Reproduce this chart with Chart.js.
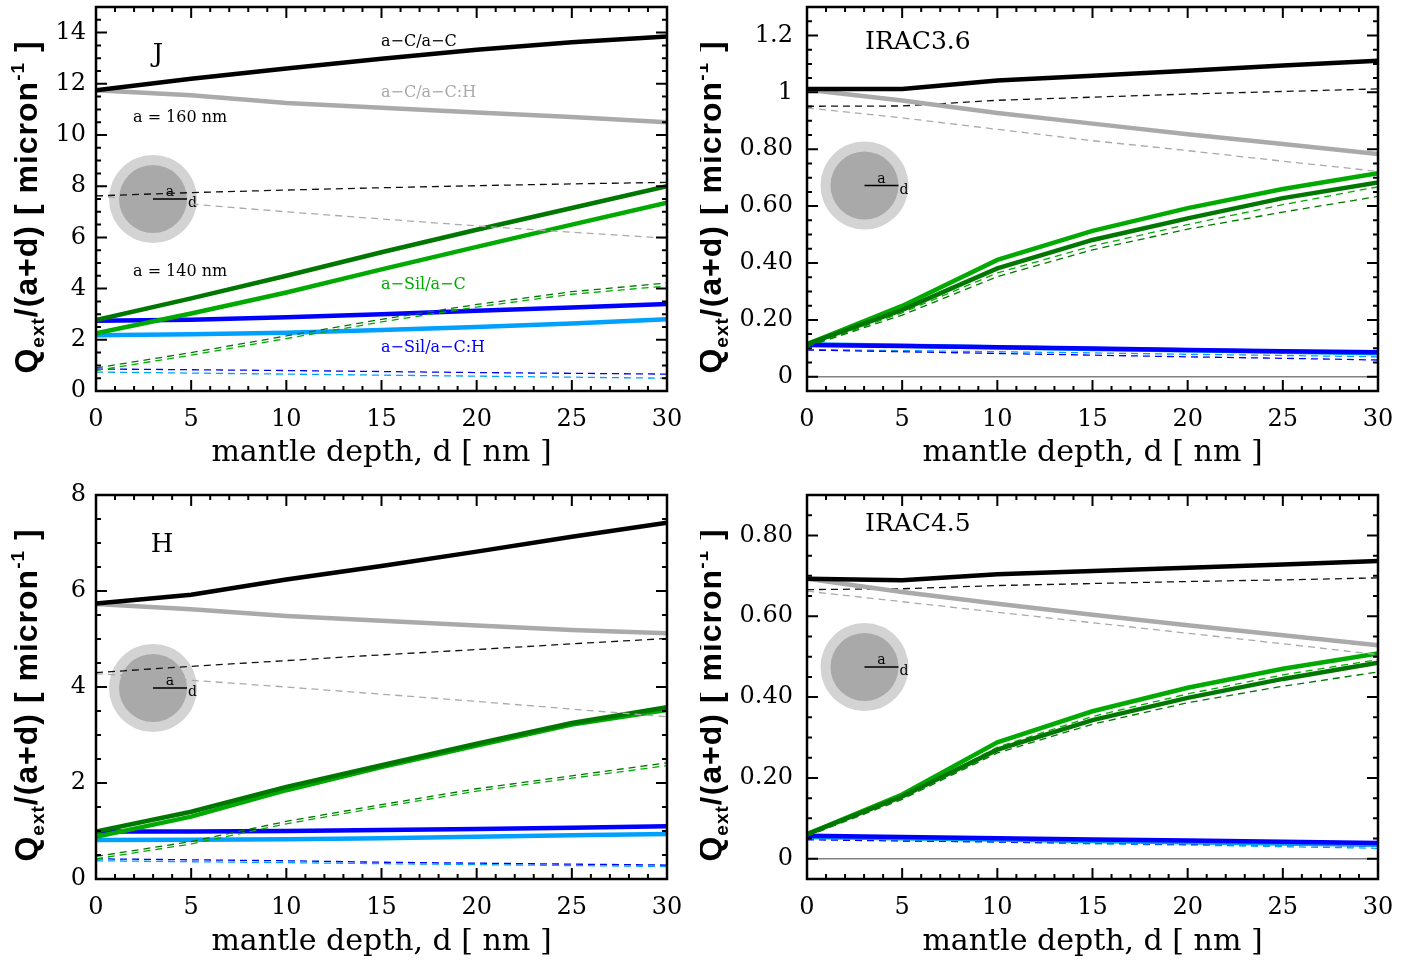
<!DOCTYPE html>
<html>
<head>
<meta charset="utf-8">
<script src="https://cdn.jsdelivr.net/npm/chart.js@4.4.0/dist/chart.umd.min.js"></script>
<style>
  body { margin: 0; background: #fff; width: 1417px; height: 964px; position: relative; overflow: hidden; }
  canvas { position: absolute; }
</style>
</head>
<body>
<canvas id="cJ" width="700" height="482" style="left:0;top:0"></canvas>
<canvas id="cI1" width="717" height="482" style="left:700px;top:0"></canvas>
<canvas id="cH" width="700" height="482" style="left:0;top:482px"></canvas>
<canvas id="cI2" width="717" height="482" style="left:700px;top:482px"></canvas>
<script>
// mantle depth d [nm]
const depth = [0, 5, 10, 15, 20, 25, 30];
const xTicks = [0, 5, 10, 15, 20, 25, 30];
const xLabels = ['0', '5', '10', '15', '20', '25', '30'];

// J band
const jCC    = [11.75, 12.2, 12.6, 12.98, 13.33, 13.62, 13.85];
const jCCH   = [11.75, 11.55, 11.25, 11.06, 10.88, 10.7, 10.5];
const jCCd   = [7.62, 7.75, 7.85, 7.94, 8.02, 8.09, 8.15];
const jCCHd  = [7.62, 7.3, 7.0, 6.72, 6.45, 6.2, 5.97];
const jSC1   = [2.77, 3.62, 4.5, 5.42, 6.3, 7.15, 8.0];
const jSC2   = [2.25, 3.03, 3.85, 4.75, 5.63, 6.5, 7.36];
const jSC1d  = [0.9, 1.5, 2.15, 2.8, 3.38, 3.88, 4.22];
const jSC2d  = [0.8, 1.4, 2.05, 2.7, 3.28, 3.78, 4.1];
const jSH1   = [2.74, 2.78, 2.88, 3.0, 3.13, 3.26, 3.4];
const jSH2   = [2.18, 2.22, 2.28, 2.38, 2.5, 2.64, 2.8];
const jSH1d  = [0.86, 0.83, 0.8, 0.76, 0.72, 0.69, 0.66];
const jSH2d  = [0.74, 0.7, 0.66, 0.62, 0.58, 0.54, 0.5];
const jYTicks  = [0, 2, 4, 6, 8, 10, 12, 14];
const jYLabels = ['0', '2', '4', '6', '8', '10', '12', '14'];

// IRAC 3.6
const i1CC   = [1.012, 1.012, 1.042, 1.058, 1.076, 1.094, 1.111];
const i1CCH  = [1.009, 0.971, 0.927, 0.89, 0.853, 0.818, 0.783];
const i1CCd  = [0.951, 0.952, 0.972, 0.983, 0.994, 1.003, 1.012];
const i1CCHd = [0.945, 0.91, 0.87, 0.83, 0.795, 0.758, 0.722];
const i1SC1  = [0.115, 0.235, 0.381, 0.481, 0.557, 0.628, 0.683];
const i1SC2  = [0.115, 0.249, 0.411, 0.513, 0.593, 0.66, 0.716];
const i1SC1d = [0.106, 0.217, 0.352, 0.446, 0.519, 0.579, 0.634];
const i1SC2d = [0.106, 0.225, 0.365, 0.46, 0.535, 0.605, 0.668];
const i1SH1  = [0.112, 0.108, 0.104, 0.099, 0.094, 0.09, 0.086];
const i1SH2  = [0.114, 0.109, 0.104, 0.098, 0.093, 0.088, 0.083];
const i1SH1d = [0.094, 0.088, 0.082, 0.076, 0.07, 0.065, 0.059];
const i1SH2d = [0.096, 0.092, 0.088, 0.084, 0.079, 0.075, 0.07];
const i1YTicks  = [0, 0.2, 0.4, 0.6, 0.8, 1, 1.2];
const i1YLabels = ['0', '0.20', '0.40', '0.60', '0.80', '1', '1.2'];

// H band
const hCC    = [5.74, 5.92, 6.24, 6.52, 6.82, 7.13, 7.42];
const hCCH   = [5.73, 5.62, 5.48, 5.38, 5.28, 5.19, 5.12];
const hCCd   = [4.3, 4.43, 4.55, 4.67, 4.78, 4.9, 5.01];
const hCCHd  = [4.28, 4.14, 4.0, 3.85, 3.7, 3.54, 3.38];
const hSC1   = [0.99, 1.4, 1.92, 2.37, 2.82, 3.25, 3.58];
const hSC2   = [0.88, 1.3, 1.85, 2.33, 2.78, 3.22, 3.52];
const hSC1d  = [0.47, 0.78, 1.2, 1.55, 1.88, 2.15, 2.42];
const hSC2d  = [0.42, 0.73, 1.15, 1.5, 1.83, 2.1, 2.36];
const hSH1   = [0.99, 0.99, 1.0, 1.02, 1.04, 1.07, 1.1];
const hSH2   = [0.81, 0.82, 0.83, 0.85, 0.88, 0.91, 0.94];
const hSH1d  = [0.42, 0.4, 0.38, 0.35, 0.33, 0.31, 0.29];
const hSH2d  = [0.38, 0.36, 0.34, 0.32, 0.3, 0.28, 0.26];
const hYTicks  = [0, 2, 4, 6, 8];
const hYLabels = ['0', '2', '4', '6', '8'];

// IRAC 4.5
const i2CC   = [0.693, 0.689, 0.704, 0.712, 0.72, 0.728, 0.737];
const i2CCH  = [0.693, 0.66, 0.631, 0.604, 0.578, 0.553, 0.528];
const i2CCd  = [0.666, 0.668, 0.676, 0.681, 0.686, 0.69, 0.695];
const i2CCHd = [0.662, 0.636, 0.61, 0.584, 0.558, 0.532, 0.505];
const i2SC1  = [0.061, 0.154, 0.27, 0.343, 0.398, 0.445, 0.485];
const i2SC2  = [0.061, 0.159, 0.288, 0.365, 0.423, 0.47, 0.508];
const i2SC1d = [0.056, 0.147, 0.262, 0.333, 0.386, 0.427, 0.462];
const i2SC2d = [0.058, 0.152, 0.276, 0.352, 0.408, 0.455, 0.493];
const i2SH1  = [0.057, 0.054, 0.051, 0.048, 0.045, 0.042, 0.039];
const i2SH2  = [0.054, 0.051, 0.048, 0.044, 0.041, 0.038, 0.035];
const i2SH1d = [0.047, 0.044, 0.042, 0.039, 0.036, 0.034, 0.031];
const i2SH2d = [0.049, 0.045, 0.041, 0.037, 0.034, 0.03, 0.026];
const i2YTicks  = [0, 0.2, 0.4, 0.6, 0.8];
const i2YLabels = ['0', '0.20', '0.40', '0.60', '0.80'];

// line styles, same order as the series lists below
const styles = [
  { c: '#000000', w: 4.5 }, { c: '#aaaaaa', w: 4.5 },
  { c: '#111111', w: 1.3, d: true }, { c: '#aaaaaa', w: 1.3, d: true },
  { c: '#007700', w: 4.5 }, { c: '#00aa00', w: 4.5 },
  { c: '#007700', w: 1.3, d: true }, { c: '#00aa00', w: 1.3, d: true },
  { c: '#0000ff', w: 4.5 }, { c: '#00a0ff', w: 4.5 },
  { c: '#0000ff', w: 1.3, d: true }, { c: '#00a0ff', w: 1.3, d: true }
];

const serif = '"DejaVu Serif"';
const small = 16;

const panels = [
  { id: 'cJ', series: [jCC, jCCH, jCCd, jCCHd, jSC1, jSC2, jSC1d, jSC2d, jSH1, jSH2, jSH1d, jSH2d],
    yMin: 0, yMax: 15, yTicks: jYTicks, yLabels: jYLabels, yMinor: 0.5, yStep: 2,
    padTop: 7, padRight: 33, yW: 96, xH: 91, titleX: 37, titlePad: 11, tickPad: 10, circle: [57, 192],
    notes: [
      { t: 'J', x: 62, y: 48, size: 26, c: '#000', al: 'center' },
      { t: 'a−C/a−C', x: 285, y: 35, size: small, c: '#000' },
      { t: 'a−C/a−C:H', x: 285, y: 86, size: small, c: '#aaaaaa' },
      { t: 'a = 160 nm', x: 37, y: 111, size: small, c: '#000' },
      { t: 'a = 140 nm', x: 37, y: 265, size: small, c: '#000' },
      { t: 'a−Sil/a−C', x: 285, y: 278, size: small, c: '#00aa00' },
      { t: 'a−Sil/a−C:H', x: 285, y: 341, size: small, c: '#0000ff' }
    ] },
  { id: 'cI1', series: [i1CC, i1CCH, i1CCd, i1CCHd, i1SC1, i1SC2, i1SC1d, i1SC2d, i1SH1, i1SH2, i1SH1d, i1SH2d],
    yMin: -0.05, yMax: 1.3, yTicks: i1YTicks, yLabels: i1YLabels, yMinor: 0.05, yStep: 0.2,
    padTop: 7, padRight: 39, yW: 107, xH: 91, titleX: 21, titlePad: 11, tickPad: 14, circle: [57.5, 178.5],
    notes: [{ t: 'IRAC3.6', x: 58, y: 35, size: 25, c: '#000' }] },
  { id: 'cH', series: [hCC, hCCH, hCCd, hCCHd, hSC1, hSC2, hSC1d, hSC2d, hSH1, hSH2, hSH1d, hSH2d],
    yMin: 0, yMax: 8, yTicks: hYTicks, yLabels: hYLabels, yMinor: 0.5, yStep: 2,
    padTop: 13, padRight: 33, yW: 96, xH: 85, titleX: 37, titlePad: 4, tickPad: 10, circle: [57, 193],
    notes: [{ t: 'H', x: 66, y: 50, size: 26, c: '#000', al: 'center' }] },
  { id: 'cI2', series: [i2CC, i2CCH, i2CCd, i2CCHd, i2SC1, i2SC2, i2SC1d, i2SC2d, i2SH1, i2SH2, i2SH1d, i2SH2d],
    yMin: -0.05, yMax: 0.9, yTicks: i2YTicks, yLabels: i2YLabels, yMinor: 0.05, yStep: 0.2,
    padTop: 13, padRight: 39, yW: 107, xH: 85, titleX: 21, titlePad: 4, tickPad: 14, circle: [57.5, 172],
    notes: [{ t: 'IRAC4.5', x: 58, y: 29, size: 25, c: '#000' }] }
];

function isMajor(v, step) {
  const r = v / step;
  return Math.abs(r - Math.round(r)) < 1e-6;
}

// gray zero line + core/mantle sketch, under the curves
const underlay = {
  id: 'underlay',
  beforeDatasetsDraw(chart, args, o) {
    const { ctx, chartArea: a, scales: { y } } = chart;
    ctx.save();
    if (y.min < 0) {
      const py = y.getPixelForValue(0);
      ctx.strokeStyle = '#808080';
      ctx.lineWidth = 1.5;
      ctx.beginPath(); ctx.moveTo(a.left, py); ctx.lineTo(a.right, py); ctx.stroke();
    }
    const cx = a.left + o.circle[0], cy = a.top + o.circle[1];
    ctx.fillStyle = '#d3d3d3';
    ctx.beginPath(); ctx.arc(cx, cy, 44, 0, Math.PI * 2); ctx.fill();
    ctx.fillStyle = '#a9a9a9';
    ctx.beginPath(); ctx.arc(cx, cy, 34, 0, Math.PI * 2); ctx.fill();
    ctx.strokeStyle = '#000'; ctx.lineWidth = 1.5;
    ctx.beginPath(); ctx.moveTo(cx, cy); ctx.lineTo(cx + 34, cy); ctx.stroke();
    ctx.fillStyle = '#000';
    ctx.font = '14px ' + serif;
    ctx.textAlign = 'center'; ctx.textBaseline = 'alphabetic';
    ctx.fillText('a', cx + 17, cy - 3);
    ctx.textAlign = 'left';
    ctx.fillText('d', cx + 35, cy + 8);
    ctx.restore();
  }
};

// box, inward ticks on all four sides, y title and text labels
const overlay = {
  id: 'overlay',
  afterDraw(chart, args, o) {
    const { ctx, chartArea: a, scales: { x, y } } = chart;
    ctx.save();
    ctx.strokeStyle = '#000';
    ctx.lineWidth = 2;
    ctx.beginPath();
    for (let v = 0; v <= 30 + 1e-9; v += 1) {
      const px = x.getPixelForValue(v);
      const L = isMajor(v, 5) ? 11 : 5;
      ctx.moveTo(px, a.bottom); ctx.lineTo(px, a.bottom - L);
      ctx.moveTo(px, a.top); ctx.lineTo(px, a.top + L);
    }
    const start = Math.ceil(o.yMin / o.yMinor - 1e-9) * o.yMinor;
    for (let k = 0; ; k++) {
      const v = start + k * o.yMinor;
      if (v > o.yMax + 1e-9) break;
      const py = y.getPixelForValue(v);
      const L = isMajor(v, o.yStep) ? 11 : 5;
      ctx.moveTo(a.left, py); ctx.lineTo(a.left + L, py);
      ctx.moveTo(a.right, py); ctx.lineTo(a.right - L, py);
    }
    ctx.stroke();
    ctx.lineWidth = 2.5;
    ctx.strokeRect(a.left, a.top, a.width, a.height);

    // y title with subscript / superscript
    const big = 'bold 32px "Liberation Sans"', sm = 'bold 19px "Liberation Sans"';
    const parts = [['Q', big, 0], ['ext', sm, 7], ['/(a+d) [ micron', big, 0], ['-1', sm, -13], [' ]', big, 0]];
    ctx.translate(o.titleX, (a.top + a.bottom) / 2 + 8);
    ctx.rotate(-Math.PI / 2);
    ctx.fillStyle = '#000';
    ctx.textBaseline = 'alphabetic';
    ctx.textAlign = 'left';
    ctx.letterSpacing = '1px';
    let total = 0;
    parts.forEach(p => { ctx.font = p[1]; total += ctx.measureText(p[0]).width; });
    let tx = -total / 2;
    parts.forEach(p => { ctx.font = p[1]; ctx.fillText(p[0], tx, p[2]); tx += ctx.measureText(p[0]).width; });
    ctx.setTransform(1, 0, 0, 1, 0, 0);
    ctx.letterSpacing = '0px';

    ctx.textBaseline = 'middle';
    o.notes.forEach(n => {
      ctx.font = n.size + 'px ' + serif;
      ctx.fillStyle = n.c;
      ctx.textAlign = n.al || 'left';
      ctx.fillText(n.t, a.left + n.x, a.top + n.y);
    });
    ctx.restore();
  }
};

panels.forEach(p => {
  const datasets = p.series.map((arr, i) => ({
    data: depth.map((d, k) => ({ x: d, y: arr[k] })),
    borderColor: styles[i].c,
    borderWidth: styles[i].w,
    borderDash: styles[i].d ? [7, 5] : [],
    pointRadius: 0,
    tension: 0,
    fill: false
  }));
  new Chart(document.getElementById(p.id), {
    type: 'line',
    data: { datasets: datasets },
    plugins: [underlay, overlay],
    options: {
      responsive: false,
      devicePixelRatio: 1,
      animation: false,
      layout: { padding: { left: 0, top: p.padTop, right: p.padRight, bottom: 0 } },
      plugins: {
        legend: { display: false },
        tooltip: { enabled: false },
        underlay: { circle: p.circle },
        overlay: p
      },
      scales: {
        x: {
          type: 'linear', min: 0, max: 30,
          afterBuildTicks: s => { s.ticks = xTicks.map(v => ({ value: v })); },
          afterFit: s => { s.height = p.xH; s.paddingLeft = 0; s.paddingRight = 0; },
          ticks: { callback: (v, i) => xLabels[i], font: { family: 'DejaVu Serif', size: 24 }, color: '#000', padding: 14, maxRotation: 0, autoSkip: false },
          grid: { display: false, drawTicks: false },
          border: { display: false },
          title: { display: true, text: 'mantle depth, d [ nm ]', color: '#000', font: { family: 'DejaVu Serif', size: 30 }, padding: { top: 0, bottom: p.titlePad } }
        },
        y: {
          type: 'linear', min: p.yMin, max: p.yMax,
          afterBuildTicks: s => { s.ticks = p.yTicks.map(v => ({ value: v })); },
          afterFit: s => { s.width = p.yW; s.paddingTop = 0; s.paddingBottom = 0; },
          ticks: { callback: (v, i) => p.yLabels[i], font: { family: 'DejaVu Serif', size: 24 }, color: '#000', padding: p.tickPad, autoSkip: false },
          grid: { display: false, drawTicks: false },
          border: { display: false }
        }
      }
    }
  });
});
</script>
</body>
</html>
